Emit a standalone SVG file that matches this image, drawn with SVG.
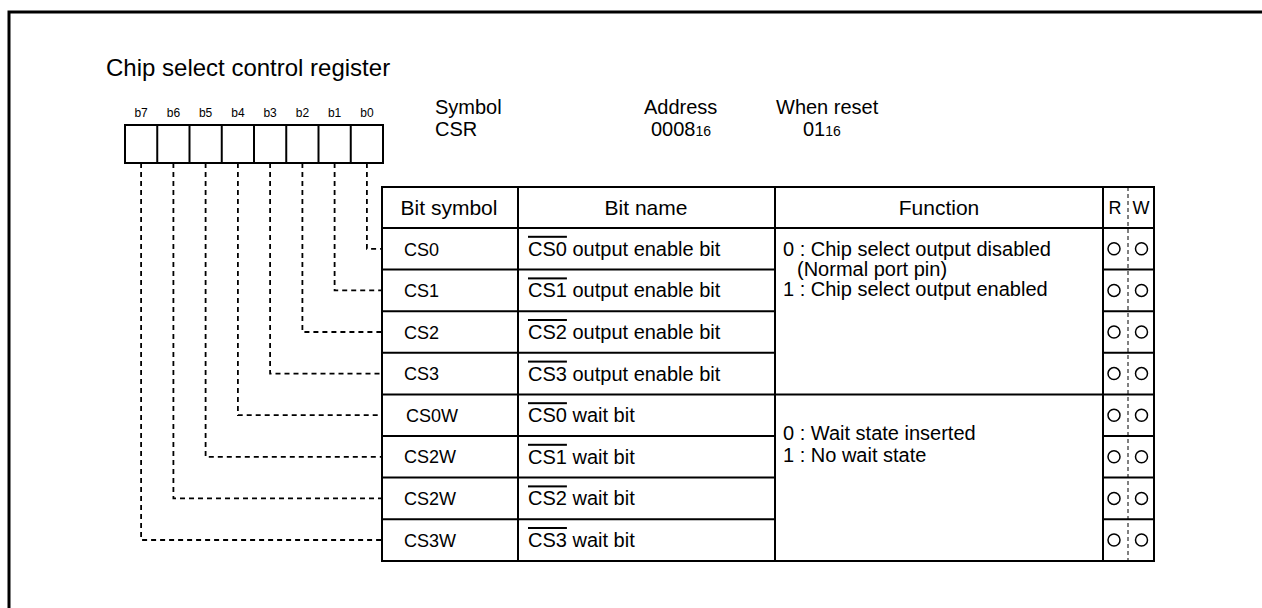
<svg xmlns="http://www.w3.org/2000/svg" width="1262" height="608" viewBox="0 0 1262 608">
<style>
text{font-family:"Liberation Sans",Arial,sans-serif;fill:#000}
.t{font-size:24px}
.info{font-size:20px}
.sub{font-size:14px}
.bl{font-size:12px;text-anchor:middle}
.hd{font-size:21px;text-anchor:middle}
.rw{font-size:18px;text-anchor:middle}
.sym{font-size:18px}
.nm{font-size:20px}
.fn{font-size:20px}
.ov{text-decoration:overline}
.box{fill:#fff;stroke:#000;stroke-width:2}
.ln{stroke:#000;stroke-width:2;fill:none}
.dash{stroke:#000;stroke-width:1.8;fill:none;stroke-dasharray:5,4}
.circ{fill:none;stroke:#000;stroke-width:1.5}
</style>
<rect x="0" y="0" width="1262" height="608" fill="#fff"/>
<rect x="9" y="12" width="1320" height="700" fill="none" stroke="#000" stroke-width="3"/>
<text class="t" x="106" y="76">Chip select control register</text>

<g id="register-bits">
<rect class="box" x="125" y="125" width="258" height="38"/>
<g class="ln">
<line x1="157.25" y1="125" x2="157.25" y2="163"/>
<line x1="189.5" y1="125" x2="189.5" y2="163"/>
<line x1="221.75" y1="125" x2="221.75" y2="163"/>
<line x1="254" y1="125" x2="254" y2="163"/>
<line x1="286.25" y1="125" x2="286.25" y2="163"/>
<line x1="318.5" y1="125" x2="318.5" y2="163"/>
<line x1="350.75" y1="125" x2="350.75" y2="163"/>
</g>
<text class="bl" x="141.1" y="117">b7</text>
<text class="bl" x="173.4" y="117">b6</text>
<text class="bl" x="205.6" y="117">b5</text>
<text class="bl" x="237.9" y="117">b4</text>
<text class="bl" x="270.1" y="117">b3</text>
<text class="bl" x="302.4" y="117">b2</text>
<text class="bl" x="334.6" y="117">b1</text>
<text class="bl" x="366.9" y="117">b0</text>
</g>

<g id="info">
<text class="info" x="435" y="114">Symbol</text>
<text class="info" x="435" y="136">CSR</text>
<text class="info" x="644" y="114">Address</text>
<text class="info" x="651" y="136">0008<tspan class="sub">16</tspan></text>
<text class="info" x="776" y="114">When reset</text>
<text class="info" x="803" y="136">01<tspan class="sub">16</tspan></text>
</g>

<g id="connectors">
<polyline class="dash" points="366.9,163 366.9,248.8 382,248.8"/>
<polyline class="dash" points="334.6,163 334.6,290.4 382,290.4"/>
<polyline class="dash" points="302.4,163 302.4,332 382,332"/>
<polyline class="dash" points="270.1,163 270.1,373.6 382,373.6"/>
<polyline class="dash" points="237.9,163 237.9,415.2 382,415.2"/>
<polyline class="dash" points="205.6,163 205.6,456.8 382,456.8"/>
<polyline class="dash" points="173.4,163 173.4,498.4 382,498.4"/>
<polyline class="dash" points="141.1,163 141.1,540 382,540"/>
</g>

<g id="table">
<rect class="box" x="382" y="187" width="772" height="374"/>
<g class="ln">
<line x1="518" y1="187" x2="518" y2="561"/>
<line x1="775" y1="187" x2="775" y2="561"/>
<line x1="1103" y1="187" x2="1103" y2="561"/>
<line x1="382" y1="228" x2="1154" y2="228"/>
<line x1="382" y1="269.6" x2="775" y2="269.6"/><line x1="1103" y1="269.6" x2="1154" y2="269.6"/>
<line x1="382" y1="311.2" x2="775" y2="311.2"/><line x1="1103" y1="311.2" x2="1154" y2="311.2"/>
<line x1="382" y1="352.8" x2="775" y2="352.8"/><line x1="1103" y1="352.8" x2="1154" y2="352.8"/>
<line x1="382" y1="394.4" x2="1154" y2="394.4"/>
<line x1="382" y1="436" x2="775" y2="436"/><line x1="1103" y1="436" x2="1154" y2="436"/>
<line x1="382" y1="477.6" x2="775" y2="477.6"/><line x1="1103" y1="477.6" x2="1154" y2="477.6"/>
<line x1="382" y1="519.2" x2="775" y2="519.2"/><line x1="1103" y1="519.2" x2="1154" y2="519.2"/>
</g>
<line x1="1128" y1="187" x2="1128" y2="561" stroke="#000" stroke-width="1" stroke-dasharray="4,3"/>
<text class="hd" x="449" y="215">Bit symbol</text>
<text class="hd" x="646" y="215">Bit name</text>
<text class="hd" x="939" y="215">Function</text>
<text class="rw" x="1115" y="214">R</text>
<text class="rw" x="1141" y="214">W</text>

<g id="row-cs0"><text class="sym" x="404" y="255.5">CS0</text><text class="nm" x="528" y="255.8"><tspan class="ov">CS0</tspan> output enable bit</text></g>
<g id="row-cs1"><text class="sym" x="404" y="297">CS1</text><text class="nm" x="528" y="297.4"><tspan class="ov">CS1</tspan> output enable bit</text></g>
<g id="row-cs2"><text class="sym" x="404" y="338.6">CS2</text><text class="nm" x="528" y="339"><tspan class="ov">CS2</tspan> output enable bit</text></g>
<g id="row-cs3"><text class="sym" x="404" y="380.2">CS3</text><text class="nm" x="528" y="380.6"><tspan class="ov">CS3</tspan> output enable bit</text></g>
<g id="row-cs0w"><text class="sym" x="406" y="421.8">CS0W</text><text class="nm" x="528" y="422.2"><tspan class="ov">CS0</tspan> wait bit</text></g>
<g id="row-cs2w-a"><text class="sym" x="404" y="463.4">CS2W</text><text class="nm" x="528" y="463.8"><tspan class="ov">CS1</tspan> wait bit</text></g>
<g id="row-cs2w-b"><text class="sym" x="404" y="505">CS2W</text><text class="nm" x="528" y="505.4"><tspan class="ov">CS2</tspan> wait bit</text></g>
<g id="row-cs3w"><text class="sym" x="404" y="546.6">CS3W</text><text class="nm" x="528" y="547"><tspan class="ov">CS3</tspan> wait bit</text></g>

<g id="function-1">
<text class="fn" x="783" y="256">0 : Chip select output disabled</text>
<text class="fn" x="797" y="276">(Normal port pin)</text>
<text class="fn" x="783" y="296">1 : Chip select output enabled</text>
</g>
<g id="function-2">
<text class="fn" x="783" y="440">0 : Wait state inserted</text>
<text class="fn" x="783" y="462">1 : No wait state</text>
</g>

<g id="rw-marks">
<g class="circ">
<circle cx="1114" cy="248.8" r="6"/><circle cx="1141.5" cy="248.8" r="6"/>
<circle cx="1114" cy="290.4" r="6"/><circle cx="1141.5" cy="290.4" r="6"/>
<circle cx="1114" cy="332" r="6"/><circle cx="1141.5" cy="332" r="6"/>
<circle cx="1114" cy="373.6" r="6"/><circle cx="1141.5" cy="373.6" r="6"/>
<circle cx="1114" cy="415.2" r="6"/><circle cx="1141.5" cy="415.2" r="6"/>
<circle cx="1114" cy="456.8" r="6"/><circle cx="1141.5" cy="456.8" r="6"/>
<circle cx="1114" cy="498.4" r="6"/><circle cx="1141.5" cy="498.4" r="6"/>
<circle cx="1114" cy="540" r="6"/><circle cx="1141.5" cy="540" r="6"/>
</g>
</g>
</g>
</svg>
